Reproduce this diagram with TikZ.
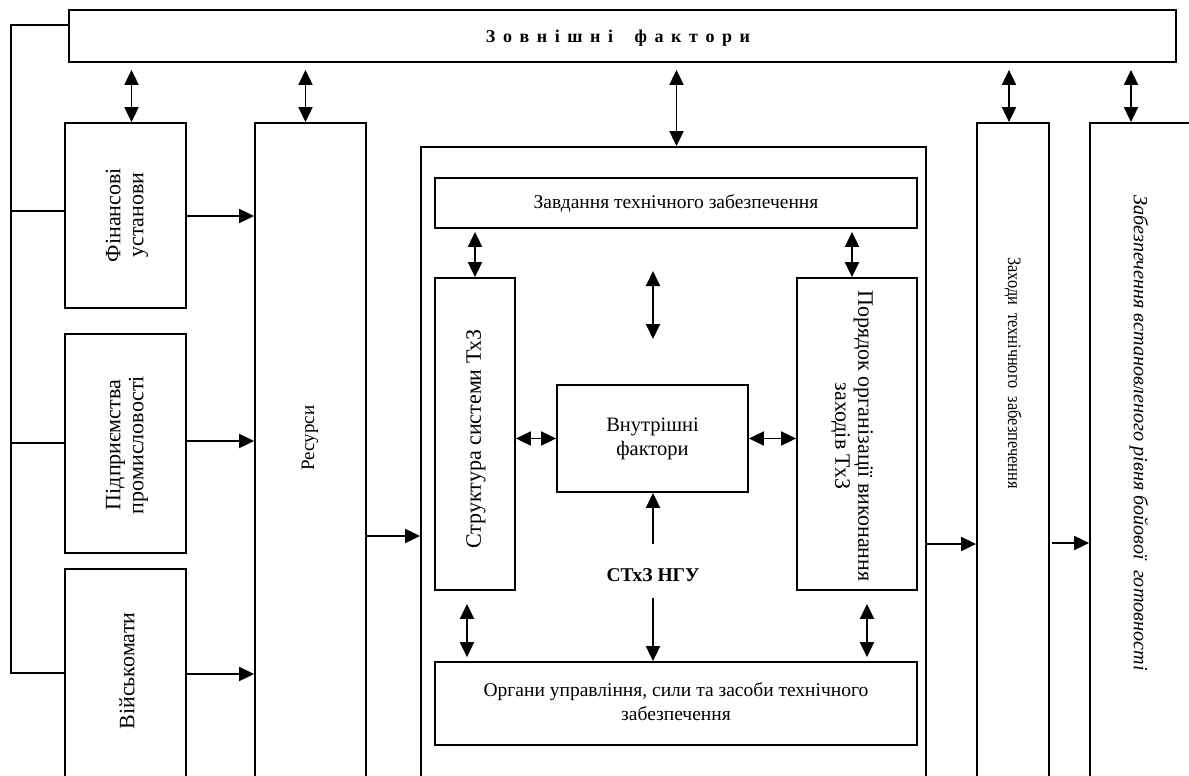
\documentclass[tikz,border=0pt]{standalone}
\usepackage{fontspec}
\setmainfont{Liberation Serif}
\newfontfamily\narrowserif[FakeStretch=0.86]{Liberation Serif}
\usetikzlibrary{arrows.meta,calc}
\newcommand\tls{\hspace{0.42em}}
\begin{document}
\begin{tikzpicture}[x=1pt,y=-1pt,
  box/.style={draw, line width=1.8pt, inner sep=0pt},
  ln/.style={line width=1.9pt},
  tip/.tip={Triangle[length=15pt,width=14pt]},
  arr/.style={ln, -tip},
  dbl/.style={ln, tip-tip},
  lbl/.style={font=\fontsize{19.5}{22}\selectfont, align=center, inner sep=0pt},
  vlbl/.style={font=\fontsize{22}{23}\selectfont, align=center, inner sep=0pt},
]
\clip (0,0) rectangle (1189,776);
\fill[white] (0,0) rectangle (1189,776);

% outer blocks
\node[box, minimum width=1107, minimum height=52] (ext) at (622.5,36) {};
\node[font=\fontsize{18}{20}\selectfont\bfseries] at (618,38)
  {З\tls о\tls в\tls н\tls і\tls ш\tls н\tls і\hspace{1.2em}ф\tls а\tls к\tls т\tls о\tls р\tls и};

\node[box, minimum width=121, minimum height=185] (fin) at (125.5,215.5) {};
\node[box, minimum width=121, minimum height=219] (pid) at (125.5,443.5) {};
\node[box, minimum width=121, minimum height=231] (vk)  at (125.5,684.5) {};
\node[box, minimum width=111, minimum height=677] (res) at (310.5,461.5) {};
\node[box, minimum width=505, minimum height=653] (ctr) at (673.5,473.5) {};
\node[box, minimum width=72,  minimum height=677] (zah) at (1013,461.5) {};
\node[box, minimum width=120, minimum height=677] (rb)  at (1150,461.5) {};

\node[vlbl, rotate=90] at (127,215) {Фінансові\\установи};
\node[vlbl, rotate=90] at (127,445) {Підприємства\\промисловості};
\node[vlbl, rotate=90] at (127,671) {Військомати};
\node[lbl, rotate=90, font=\fontsize{19}{22}\selectfont] at (310,438) {Ресурси};
\node[lbl, rotate=-90, font=\fontsize{19}{22}\narrowserif] at (1013,373)
  {Заходи\ \ технічного\ \ забезпечення};
\node[lbl, rotate=-90, font=\fontsize{20.2}{22}\selectfont\itshape] at (1139,433)
  {Забезпечення встановленого рівня бойової\ \ готовності};

% inner blocks
\node[box, minimum width=482, minimum height=50] (zav) at (676,203) {};
\node[lbl] at (zav) {Завдання технічного забезпечення};
\node[box, minimum width=80,  minimum height=312] (str) at (475,434) {};
\node[vlbl, rotate=90] at (476,439) {Структура системи ТхЗ};
\node[box, minimum width=120, minimum height=312] (por) at (857,434) {};
\node[vlbl, rotate=-90] at (852,436) {Порядок організації виконання\\заходів ТхЗ};
\node[box, minimum width=191, minimum height=107] (vn) at (652.5,438.5) {};
\node[lbl, font=\fontsize{20.5}{24}\selectfont] at (vn) {Внутрішні\\фактори};
\node[box, minimum width=482, minimum height=83] (org) at (676,703.5) {};
\node[lbl, font=\fontsize{19.5}{24}\selectfont] at (676,702) {Органи управління, сили та засоби технічного\\забезпечення};
\node[lbl, font=\fontsize{19.5}{22}\selectfont\bfseries] (stxz) at (653,575) {СТхЗ НГУ};
\coordinate (fa) at (653,271);
\coordinate (fb) at (653,339);

% links with the external factors
\draw[dbl, shorten <=7pt] ([xshift=6pt]fin.north |- ext.south) -- ([xshift=6pt]fin.north);
\draw[dbl, shorten <=7pt] ([xshift=-5pt]res.north |- ext.south) -- ([xshift=-5pt]res.north);
\draw[dbl, shorten <=7pt] ([xshift=3pt]ctr.north |- ext.south) -- ([xshift=3pt]ctr.north);
\draw[dbl, shorten <=7pt] ([xshift=-4pt]zah.north |- ext.south) -- ([xshift=-4pt]zah.north);
\draw[dbl, shorten <=7pt] ([xshift=-19pt]rb.north |- ext.south) -- ([xshift=-19pt]rb.north);

% left bracket
\draw[ln] ([yshift=11pt]ext.west) -| (11,673) -- (vk.west |- 0,673);
\draw[ln] (11,211) -- (fin.west |- 0,211);
\draw[ln] (11,443) -- (pid.west |- 0,443);

% flow to the right
\draw[arr] (fin.east |- 0,216) -- (res.west |- 0,216);
\draw[arr] (pid.east |- 0,441) -- (res.west |- 0,441);
\draw[arr] (vk.east |- 0,674) -- (res.west |- 0,674);
\draw[arr] (res.east |- 0,536) -- (ctr.west |- 0,536);
\draw[arr] (ctr.east |- 0,544) -- (zah.west |- 0,544);
\draw[arr, shorten <=2pt] (zah.east |- 0,543) -- (rb.west |- 0,543);

% links inside the system
\draw[dbl, shorten <=3pt] (str.north |- zav.south) -- (str.north);
\draw[dbl, shorten <=3pt] ([xshift=-5pt]por.north |- zav.south) -- ([xshift=-5pt]por.north);
\draw[dbl, shorten <=13pt, shorten >=4pt] ([xshift=-8pt]str.south) -- ([xshift=-8pt]str.south |- org.north);
\draw[dbl, shorten <=13pt, shorten >=4pt] ([xshift=10pt]por.south) -- ([xshift=10pt]por.south |- org.north);
\draw[dbl] (str.east |- vn.west) -- (vn.west);
\draw[dbl] (vn.east) -- (vn.east -| por.west);
\draw[dbl] (fa) -- (fb);
\draw[arr, shorten <=1pt] (stxz.north |- 0,545) -- (vn.south -| stxz.north);
\draw[arr] (stxz.south |- 0,598) -- (org.north -| stxz.south);
\end{tikzpicture}
\end{document}
